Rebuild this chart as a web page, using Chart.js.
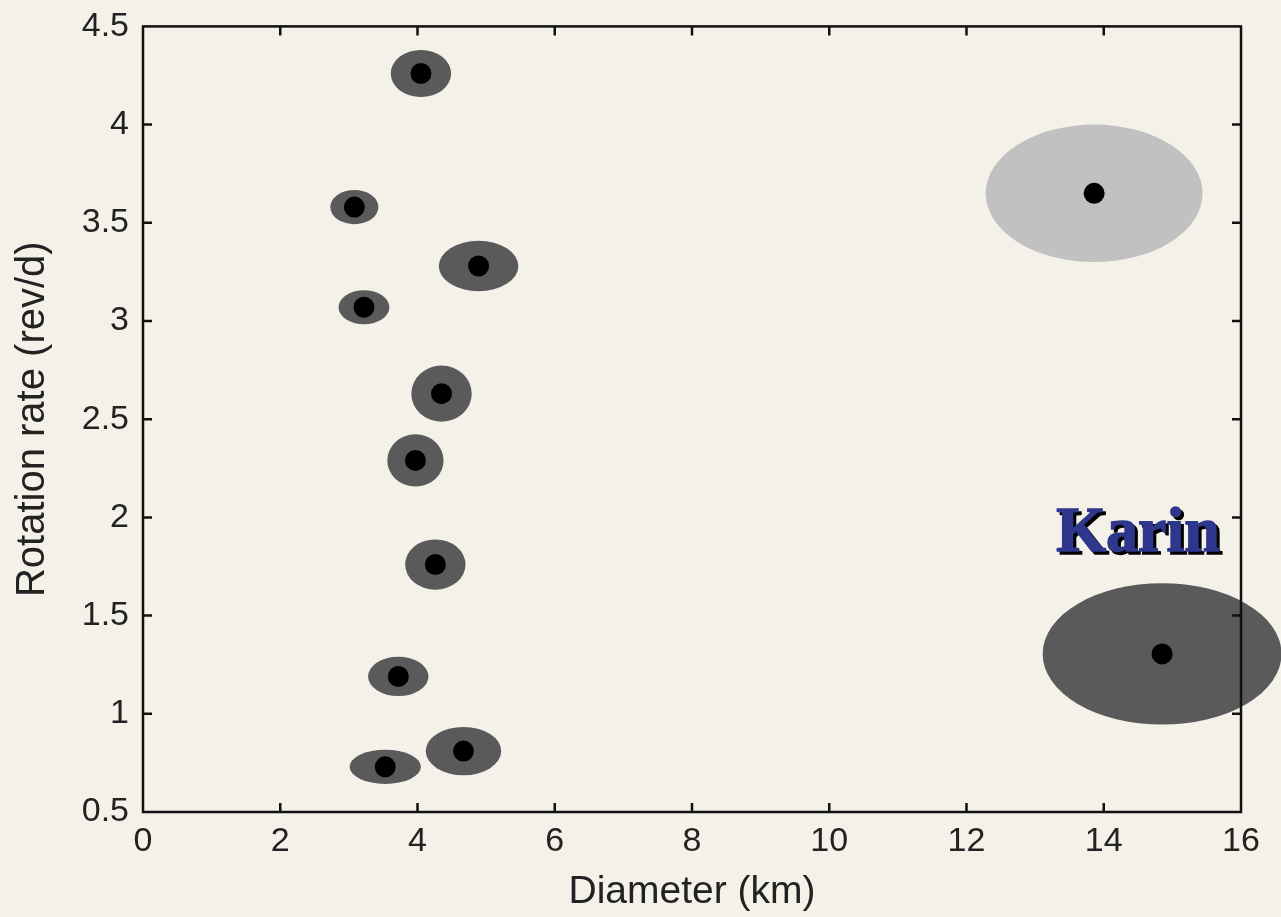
<!DOCTYPE html>
<html>
<head>
<meta charset="utf-8">
<script src="https://cdn.jsdelivr.net/npm/chart.js@4.4.0/dist/chart.umd.min.js"></script>
<style>
html,body{margin:0;padding:0;background:#f4f1e9;}
canvas{display:block;}
</style>
</head>
<body>
<canvas id="grafico" width="1281" height="917"></canvas>
<script>
// datos
const diametro = [4.05, 3.08, 4.89, 3.22, 4.35, 3.97, 4.26, 3.72, 4.67, 3.53, 13.86, 14.85];
const rotacion = [4.26, 3.58, 3.28, 3.07, 2.63, 2.29, 1.76, 1.19, 0.81, 0.73, 3.65, 1.305];
const errDiametro = [0.44, 0.35, 0.58, 0.37, 0.44, 0.41, 0.44, 0.44, 0.55, 0.52, 1.58, 1.74];
const errRotacion = [0.12, 0.087, 0.128, 0.087, 0.143, 0.133, 0.128, 0.10, 0.123, 0.087, 0.35, 0.36];
const tono = ["oscuro","oscuro","oscuro","oscuro","oscuro","oscuro","oscuro","oscuro","oscuro","oscuro","claro","oscuro"];
const xTicks = [0, 2, 4, 6, 8, 10, 12, 14, 16];
const yTicks = [0.5, 1, 1.5, 2, 2.5, 3, 3.5, 4, 4.5];
const etiqueta = {texto: "Karin", x: 14.5, y: 1.83};

const colores = {oscuro: "#5a5a5a", claro: "#c1c1c1"};
const puntos = diametro.map((d, i) => ({x: d, y: rotacion[i]}));

const elipses = {
  id: "elipses",
  beforeDatasetsDraw(chart) {
    const ctx = chart.ctx;
    const sx = chart.scales.x, sy = chart.scales.y;
    ctx.save();
    diametro.forEach((d, i) => {
      const cx = sx.getPixelForValue(d);
      const cy = sy.getPixelForValue(rotacion[i]);
      const rx = Math.abs(sx.getPixelForValue(d + errDiametro[i]) - cx);
      const ry = Math.abs(sy.getPixelForValue(rotacion[i] + errRotacion[i]) - cy);
      ctx.fillStyle = colores[tono[i]];
      ctx.beginPath();
      ctx.ellipse(cx, cy, rx, ry, 0, 0, Math.PI * 2);
      ctx.fill();
    });
    // marco y ticks hacia dentro
    const a = chart.chartArea;
    ctx.strokeStyle = "#111";
    ctx.lineWidth = 2.5;
    ctx.strokeRect(a.left, a.top, a.right - a.left, a.bottom - a.top);
    ctx.beginPath();
    xTicks.slice(1, -1).forEach(v => {
      const px = sx.getPixelForValue(v);
      ctx.moveTo(px, a.bottom); ctx.lineTo(px, a.bottom - 9);
      ctx.moveTo(px, a.top); ctx.lineTo(px, a.top + 9);
    });
    yTicks.slice(1, -1).forEach(v => {
      const py = sy.getPixelForValue(v);
      ctx.moveTo(a.left, py); ctx.lineTo(a.left + 9, py);
      ctx.moveTo(a.right, py); ctx.lineTo(a.right - 9, py);
    });
    ctx.stroke();
    // etiqueta Karin
    const tx = sx.getPixelForValue(etiqueta.x);
    const ty = sy.getPixelForValue(etiqueta.y);
    ctx.font = "bold 64px 'Liberation Serif', 'Times New Roman', serif";
    ctx.textAlign = "center";
    ctx.textBaseline = "alphabetic";
    ctx.fillStyle = "#000";
    ctx.strokeStyle = "#000";
    ctx.lineWidth = 1.5;
    ctx.fillText(etiqueta.texto, tx + 3, ty + 3);
    ctx.strokeText(etiqueta.texto, tx + 3, ty + 3);
    ctx.fillStyle = "#2e378c";
    ctx.strokeStyle = "#2e378c";
    ctx.fillText(etiqueta.texto, tx, ty);
    ctx.strokeText(etiqueta.texto, tx, ty);
    ctx.restore();
  }
};

const fuente = {family: "'Liberation Sans', Arial, sans-serif", size: 34};

let canvas = document.getElementById("grafico").getContext("2d");
var chart = new Chart(canvas, {
  type: "scatter",
  data: {
    datasets: [{
      data: puntos,
      backgroundColor: "#000",
      borderWidth: 0,
      pointRadius: 10.5,
      pointHoverRadius: 10.5,
      clip: false
    }]
  },
  options: {
    responsive: false,
    animation: false,
    events: [],
    layout: {padding: {top: 22, right: 40, left: 0, bottom: 0}},
    plugins: {legend: {display: false}, tooltip: {enabled: false}},
    scales: {
      x: {
        type: "linear", min: 0, max: 16,
        afterBuildTicks: s => { s.ticks = xTicks.map(v => ({value: v})); },
        grid: {display: false},
        border: {display: false},
        ticks: {color: "#222", font: fuente, padding: 1, maxRotation: 0, callback: v => String(v)},
        title: {display: true, text: "Diameter (km)", color: "#222", font: {family: fuente.family, size: 39}, padding: {top: 2, bottom: 1}},
        afterFit: s => { s.height = 105; }
      },
      y: {
        type: "linear", min: 0.5, max: 4.5,
        afterBuildTicks: s => { s.ticks = yTicks.map(v => ({value: v})); },
        grid: {display: false},
        border: {display: false},
        ticks: {color: "#222", font: fuente, padding: 6, callback: v => String(v)},
        title: {display: true, text: "Rotation rate (rev/d)", color: "#222", font: {family: fuente.family, size: 40}, padding: {top: 9, bottom: 4}},
        afterFit: s => { s.width = 143; }
      }
    }
  },
  plugins: [elipses]
});
</script>
</body>
</html>
